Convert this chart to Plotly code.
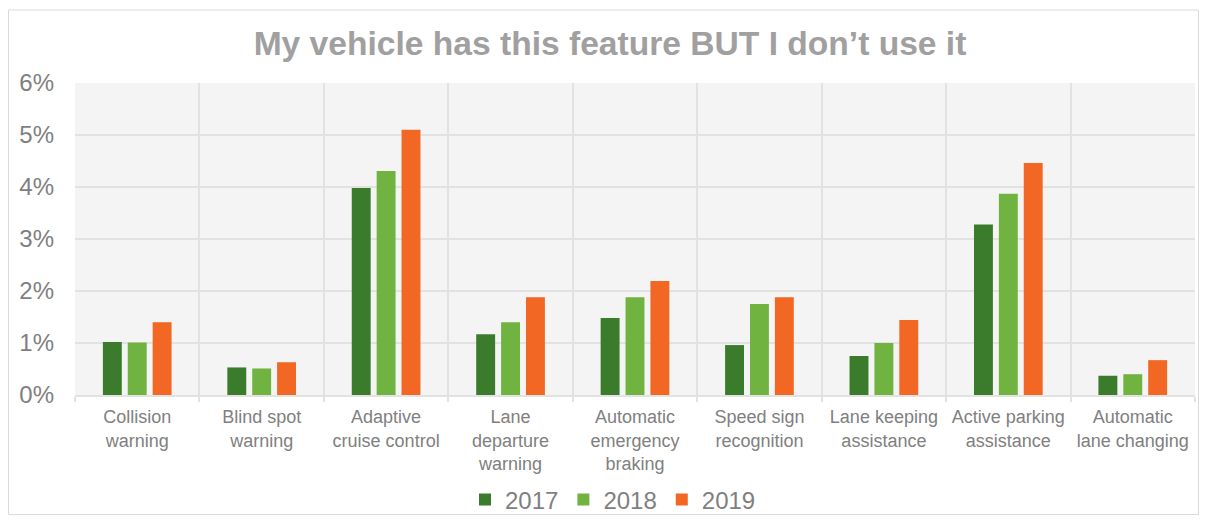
import plotly.graph_objects as go

features = [
    "Collision<br>warning",
    "Blind spot<br>warning",
    "Adaptive<br>cruise control",
    "Lane<br>departure<br>warning",
    "Automatic<br>emergency<br>braking",
    "Speed sign<br>recognition",
    "Lane keeping<br>assistance",
    "Active parking<br>assistance",
    "Automatic<br>lane changing",
]
y2017 = [1.02, 0.53, 3.98, 1.17, 1.48, 0.96, 0.75, 3.28, 0.37]
y2018 = [1.01, 0.51, 4.31, 1.40, 1.88, 1.75, 1.00, 3.87, 0.40]
y2019 = [1.40, 0.63, 5.10, 1.88, 2.19, 1.88, 1.44, 4.46, 0.67]
years = ["2017", "2018", "2019"]
colors = ["#3a7b2c", "#71b340", "#f26723"]

FONT = "Arial, Liberation Sans, sans-serif"
GRID = "#e2e2e2"

# page body has an 8px margin on every side; keep the figure inside the window
OFF = 8
W, H = 1207 - 2 * OFF, 523 - 2 * OFF
L, T = 75 - OFF, 83 - OFF
R = W - (1195 - OFF)
B = H - (395 - OFF)
PW, PH = W - L - R, H - T - B


def px_x(screen_x):
    return (screen_x - OFF - L) / PW


def px_y(screen_y):
    return (H - B - (screen_y - OFF)) / PH


fig = go.Figure()
for name, vals, col in zip(years, [y2017, y2018, y2019], colors):
    fig.add_trace(
        go.Bar(
            x=features,
            y=[v / 100 for v in vals],
            name=name,
            marker=dict(color=col, line=dict(width=0)),
        )
    )

fig.update_layout(
    width=W,
    height=H,
    margin=dict(l=L, r=R, t=T, b=B),
    paper_bgcolor="white",
    plot_bgcolor="#f4f4f4",
    barmode="group",
    bargap=0.40,
    bargroupgap=0.24,
    font=dict(family=FONT, color="#7f7f7f"),
    title=dict(
        text="<b>My vehicle has this feature BUT I don’t use it</b>",
        font=dict(size=33.6, family=FONT, color="#a0a0a0"),
        x=(610 - OFF) / W,
        xanchor="center",
        y=1 - (43 - OFF) / H,
        yanchor="middle",
    ),
    xaxis=dict(
        tickson="boundaries",
        showgrid=True,
        gridcolor=GRID,
        gridwidth=1.5,
        showline=True,
        linecolor=GRID,
        linewidth=1.5,
        ticks="outside",
        ticklen=5,
        tickcolor=GRID,
        tickwidth=1.5,
        tickangle=0,
        ticklabelstandoff=5,
        tickfont=dict(size=18, color="#808080"),
        automargin=False,
    ),
    yaxis=dict(
        range=[0, 0.06],
        dtick=0.01,
        tickformat=".0%",
        showgrid=True,
        gridcolor=GRID,
        gridwidth=1.5,
        zeroline=False,
        tickfont=dict(size=24, color="#7f7f7f"),
        ticklabelstandoff=20,
        automargin=False,
    ),
    legend=dict(
        orientation="h",
        xref="container",
        yref="container",
        x=(613 - OFF) / W,
        xanchor="center",
        y=1 - (500 - OFF) / H,
        yanchor="middle",
        bgcolor="rgba(0,0,0,0)",
        font=dict(size=24, color="#7f7f7f"),
        itemwidth=30,
        traceorder="normal",
    ),
    showlegend=True,
)

# outer chart frame
fig.add_shape(
    type="rect",
    xref="paper",
    yref="paper",
    x0=px_x(OFF + 0.5),
    x1=px_x(OFF + W - 0.5),
    y0=px_y(OFF + H - 0.5),
    y1=px_y(10),
    line=dict(color="#d9d9d9", width=1),
    layer="below",
)

fig.write_html("out.html")
